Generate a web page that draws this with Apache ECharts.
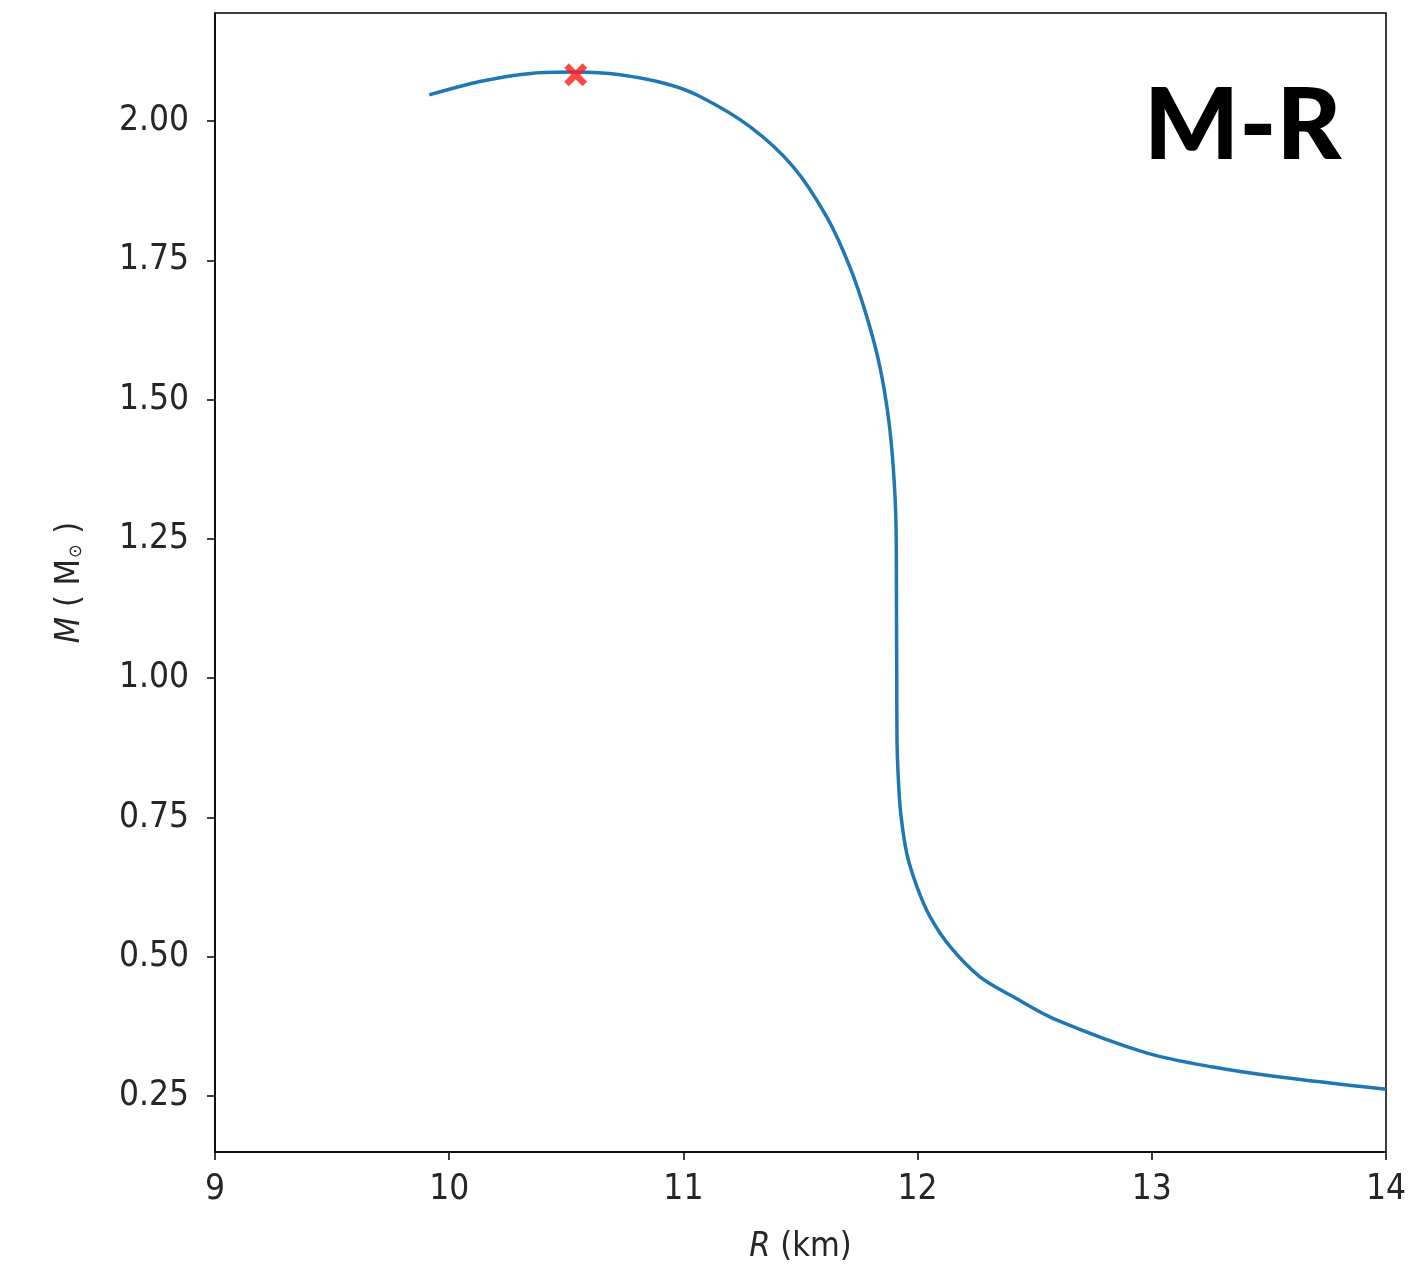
<!DOCTYPE html>
<html>
<head>
<meta charset="utf-8">
<script src="https://cdn.jsdelivr.net/npm/echarts@6/dist/echarts.min.js"></script>
<style>
  html, body { margin: 0; padding: 0; background: #fff; }
  #chart { width: 1419px; height: 1266px; }
</style>
</head>
<body>
<div id="chart"></div>
<script>
// Mass-radius curve (R in km, M in solar masses)
const radius = [
  9.915, 10.131, 10.358, 10.54, 10.729, 10.934, 11.071, 11.284, 11.469, 11.612,
  11.711, 11.783, 11.839, 11.875, 11.896, 11.908, 11.910, 11.911, 11.912, 11.918,
  11.928, 11.954, 11.997, 12.053, 12.139, 12.266, 12.409, 12.580, 12.980, 13.261,
  13.547, 14.0
];
const mass = [
  2.047, 2.071, 2.086, 2.088, 2.083, 2.066, 2.044, 1.990, 1.918, 1.828,
  1.738, 1.649, 1.559, 1.469, 1.379, 1.272, 1.100, 1.000, 0.889, 0.817,
  0.757, 0.685, 0.626, 0.572, 0.518, 0.464, 0.428, 0.389, 0.327, 0.302,
  0.284, 0.262
];

// maximum-mass point (red cross)
const maxPoint = [10.54, 2.083];

const yTicks = [0.25, 0.5, 0.75, 1.0, 1.25, 1.5, 1.75, 2.0];

const curve = radius.map((r, i) => [r, mass[i]]);

const FONT = '"DejaVu Sans Condensed", "DejaVu Sans", sans-serif';
const TEXT = '#262626';
const tickFont = { fontFamily: FONT, fontSize: 35, color: TEXT };
const crossPath = 'path://M2,0L5,3L8,0L10,2L7,5L10,8L8,10L5,7L2,10L0,8L3,5L0,2Z';

const chart = echarts.init(document.getElementById('chart'));

chart.setOption({
  animation: false,
  backgroundColor: '#fff',
  grid: {
    left: 215,
    right: 33,
    top: 13,
    bottom: 114,
    outerBoundsMode: 'none',
    show: true,
    borderColor: '#000',
    borderWidth: 1.5
  },
  xAxis: {
    type: 'value',
    min: 9,
    max: 14,
    interval: 1,
    name: '{it|R}{rm| (km)}',
    nameLocation: 'middle',
    nameGap: 78,
    nameTextStyle: {
      rich: {
        it: { fontFamily: FONT, fontStyle: 'italic', fontSize: 34, color: TEXT },
        rm: { fontFamily: FONT, fontSize: 34, color: TEXT }
      }
    },
    axisLine: { lineStyle: { color: '#000', width: 1.5 } },
    axisTick: { length: 8, lineStyle: { color: '#000', width: 1.5 } },
    axisLabel: Object.assign({ margin: 20 }, tickFont),
    splitLine: { show: false }
  },
  yAxis: {
    type: 'value',
    min: 0.1495,
    max: 2.194,
    name: '{it|M}{rm| ( M}{sub|⊙}{rm| )}',
    nameLocation: 'middle',
    nameRotate: 90,
    nameGap: 128,
    nameTextStyle: {
      rich: {
        it: { fontFamily: FONT, fontStyle: 'italic', fontSize: 34, color: TEXT },
        rm: { fontFamily: FONT, fontSize: 34, color: TEXT },
        sub: { fontFamily: FONT, fontSize: 18, color: TEXT, padding: [12, 1, 0, 1] }
      }
    },
    axisLine: { show: true, lineStyle: { color: '#000', width: 1.5 } },
    axisTick: { show: true, length: 8, customValues: yTicks, lineStyle: { color: '#000', width: 1.5 } },
    axisLabel: Object.assign({
      margin: 26,
      customValues: yTicks,
      formatter: v => v.toFixed(2)
    }, tickFont),
    splitLine: { show: false }
  },
  graphic: [
    {
      type: 'text',
      left: 1144,
      top: 77,
      style: {
        text: 'M-R',
        fontFamily: 'Lato, Inter, sans-serif',
        fontWeight: 900,
        fontSize: 100,
        fill: '#000'
      }
    }
  ],
  series: [
    {
      type: 'line',
      data: curve,
      smooth: 0.3,
      showSymbol: false,
      lineStyle: { color: '#1f77b4', width: 3.5 },
      z: 2
    },
    {
      type: 'scatter',
      data: [maxPoint],
      symbol: crossPath,
      symbolSize: 23,
      itemStyle: { color: '#ff1a1a' },
      z: 3
    }
  ]
});
</script>
</body>
</html>
